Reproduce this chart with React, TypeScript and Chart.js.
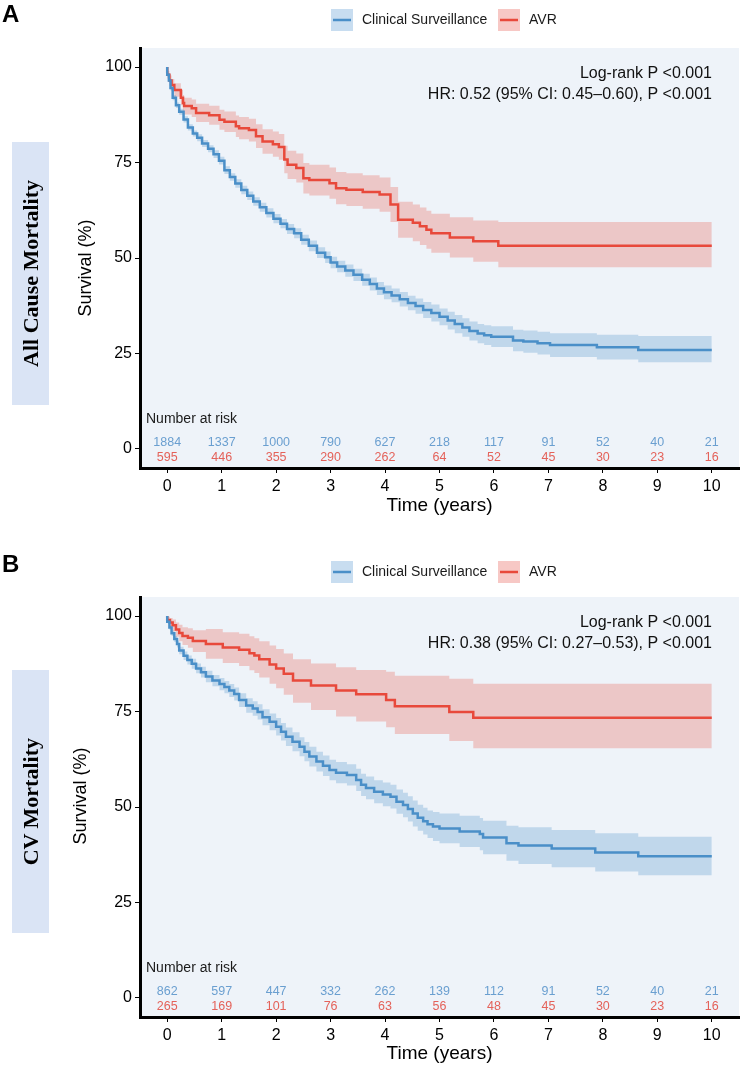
import React, { useEffect, useRef } from "react";
import { Chart, registerables } from "chart.js";

Chart.register(...registerables);

// ---------- shared axis data ----------
const timeTicks = [0, 1, 2, 3, 4, 5, 6, 7, 8, 9, 10];
const survivalTicks = [0, 25, 50, 75, 100];
const seriesNames = ["Clinical Surveillance", "AVR"];

// ---------- Panel A: All Cause Mortality ----------
const csTimeA = [0, 0.03, 0.06, 0.1, 0.16, 0.22, 0.3, 0.38, 0.47, 0.55, 0.64, 0.75, 0.85, 0.95, 1.05, 1.15, 1.25, 1.36, 1.47, 1.58, 1.7, 1.82, 1.95, 2.08, 2.2, 2.33, 2.46, 2.6, 2.75, 2.9, 3.0, 3.12, 3.27, 3.42, 3.58, 3.72, 3.85, 3.98, 4.12, 4.27, 4.42, 4.56, 4.7, 4.85, 5.0, 5.15, 5.28, 5.42, 5.55, 5.7, 5.82, 5.95, 6.35, 6.54, 6.8, 7.03, 7.89, 8.65, 9.27, 10];
const csSurvA = [100, 98, 96.5, 94.5, 92, 90, 88.3, 86.3, 84.2, 82.6, 81.5, 80, 78.6, 77.2, 75.5, 73, 71.2, 69.5, 67.8, 66.3, 64.8, 63.3, 61.8, 60.3, 59, 57.6, 56.5, 54.8, 53.2, 51.4, 50.2, 48.8, 47.8, 46.7, 45.6, 44.3, 43.2, 42, 41, 40.2, 39.2, 38.2, 37.4, 36.4, 35.6, 34.6, 33.6, 32.7, 31.8, 30.9, 30.2, 29.8, 29.4, 28.4, 28.1, 27.7, 27.2, 26.6, 25.9, 25.9];
const csLowA = [100, 97.6, 96, 93.9, 91.3, 89.3, 87.5, 85.5, 83.4, 81.8, 80.6, 79.1, 77.7, 76.2, 74.5, 72, 70.2, 68.4, 66.7, 65.2, 63.7, 62.1, 60.6, 59.1, 57.8, 56.3, 55.2, 53.5, 51.8, 50, 48.7, 47.3, 46.3, 45.1, 44, 42.7, 41.5, 40.3, 39.2, 38.4, 37.3, 36.3, 35.4, 34.3, 33.4, 32.4, 31.3, 30.3, 29.4, 28.4, 27.7, 27.2, 26.7, 25.6, 25.2, 24.7, 24.1, 23.4, 22.7, 22.7];
const csUpA = [100, 98.4, 97, 95.1, 92.7, 90.7, 89.1, 87.1, 85, 83.4, 82.4, 80.9, 79.5, 78.2, 76.5, 74, 72.2, 70.6, 68.9, 67.4, 65.9, 64.5, 63, 61.5, 60.2, 58.9, 57.8, 56.1, 54.6, 52.8, 51.7, 50.3, 49.3, 48.3, 47.2, 45.9, 44.9, 43.7, 42.8, 42, 41.1, 40.1, 39.4, 38.5, 37.8, 36.8, 35.9, 35.1, 34.2, 33.4, 32.7, 32.4, 32.1, 31.2, 31, 30.7, 30.3, 29.9, 29.6, 29.6];

const avrTimeA = [0, 0.04, 0.08, 0.13, 0.25, 0.29, 0.31, 0.45, 0.53, 0.77, 0.96, 1.05, 1.26, 1.32, 1.5, 1.63, 1.75, 1.94, 2.05, 2.15, 2.21, 2.37, 2.5, 2.61, 2.98, 3.1, 3.29, 3.59, 3.9, 4.1, 4.24, 4.51, 4.64, 4.76, 4.85, 5.19, 5.62, 6.08, 6.17, 10];
const avrSurvA = [100, 98, 96.5, 95.3, 94, 92, 90.6, 89.8, 89.2, 88, 87.4, 86.2, 85.7, 84.5, 84, 83.5, 81.9, 80.5, 79.8, 79.1, 75.8, 74.4, 73.6, 70.9, 70.4, 69.6, 68.3, 67.9, 67.3, 66.6, 64, 60, 59.2, 58.3, 57.4, 56.5, 55.4, 54.4, 53.2, 53.2];
const avrLowA = [100, 97, 95.2, 93.7, 92.2, 90, 88.5, 87.6, 86.9, 85.6, 84.9, 83.6, 83, 81.7, 81.1, 80.5, 78.8, 77.3, 76.5, 75.7, 72.2, 70.7, 69.8, 66.9, 66.4, 65.5, 64.1, 63.6, 62.9, 62.1, 59.4, 55.3, 54.4, 53.4, 52.4, 51.4, 50.1, 49, 47.6, 47.6];
const avrUpA = [100, 99, 97.8, 96.9, 95.8, 94, 92.7, 92, 91.5, 90.4, 89.9, 88.8, 88.4, 87.3, 86.9, 86.5, 85, 83.7, 83.1, 82.5, 79.4, 78.1, 77.4, 74.9, 74.4, 73.7, 72.5, 72.2, 71.7, 71.1, 68.6, 64.7, 64, 63.2, 62.4, 61.6, 60.7, 59.8, 59.4, 59.4];

const csRiskA = [1884, 1337, 1000, 790, 627, 218, 117, 91, 52, 40, 21];
const avrRiskA = [595, 446, 355, 290, 262, 64, 52, 45, 30, 23, 16];

// ---------- Panel B: CV Mortality ----------
const csTimeB = [0, 0.04, 0.08, 0.13, 0.18, 0.22, 0.3, 0.37, 0.45, 0.53, 0.62, 0.71, 0.83, 0.96, 1.05, 1.14, 1.23, 1.32, 1.45, 1.57, 1.66, 1.75, 1.88, 2.0, 2.09, 2.18, 2.3, 2.43, 2.52, 2.61, 2.74, 2.86, 2.98, 3.1, 3.3, 3.47, 3.56, 3.65, 3.8, 3.96, 4.1, 4.21, 4.33, 4.42, 4.51, 4.6, 4.7, 4.78, 4.88, 5.0, 5.37, 5.74, 5.8, 6.23, 6.45, 7.06, 7.86, 8.65, 9.27, 10];
const csSurvB = [100, 98.5, 97, 95.5, 94, 92.7, 91, 89.6, 88.5, 87.5, 86.3, 85.3, 84.2, 83.1, 82.2, 81.4, 80.5, 79.6, 78, 76.6, 75.8, 74.9, 73.5, 72.3, 71, 69.7, 68.4, 67.1, 65.8, 64.5, 63.2, 61.9, 60.8, 59.7, 59, 58.4, 57.1, 55.8, 55, 54, 53.3, 52.7, 51.4, 50.5, 49.5, 48.3, 47.2, 46.3, 45.5, 44.9, 44.4, 43.6, 42.9, 42, 40.5, 39.9, 39.1, 38.1, 37.1, 37.1];
const csLowB = [100, 98.1, 96.4, 94.8, 93.2, 91.8, 90, 88.5, 87.3, 86.2, 85, 83.9, 82.7, 81.6, 80.6, 79.8, 78.8, 77.9, 76.2, 74.7, 73.9, 72.9, 71.4, 70.1, 68.7, 67.4, 66, 64.6, 63.3, 62, 60.6, 59.3, 58.1, 57, 56.2, 55.6, 54.2, 52.9, 52, 51, 50.2, 49.6, 48.2, 47.3, 46.2, 44.9, 43.8, 42.8, 41.9, 41.1, 40.5, 39.5, 38.7, 37.6, 35.9, 35.1, 34.2, 33.1, 32.1, 32.1];
const csUpB = [100, 98.9, 97.6, 96.2, 94.8, 93.6, 92, 90.7, 89.7, 88.8, 87.6, 86.7, 85.7, 84.6, 83.8, 83, 82.2, 81.3, 79.8, 78.5, 77.7, 76.9, 75.6, 74.5, 73.3, 72, 70.8, 69.6, 68.3, 67, 65.8, 64.5, 63.5, 62.4, 61.8, 61.2, 60, 58.7, 58, 57, 56.4, 55.8, 54.6, 53.7, 52.8, 51.7, 50.6, 49.8, 49.1, 48.7, 48.3, 47.7, 47.1, 46.4, 45.1, 44.7, 44, 43.1, 42.2, 42.2];

const avrTimeB = [0, 0.05, 0.1, 0.16, 0.22, 0.28, 0.38, 0.47, 0.71, 1.02, 1.32, 1.51, 1.6, 1.69, 1.88, 2.0, 2.14, 2.31, 2.64, 3.1, 3.47, 4.02, 4.18, 5.18, 5.62, 6.16, 10];
const avrSurvB = [100, 99, 98.3, 97.6, 96.5, 95.6, 94.8, 94.3, 93.5, 92.7, 91.8, 91.2, 90.3, 89.7, 88.7, 87.3, 86.3, 84.9, 83.1, 81.8, 80.5, 79.5, 78, 76.4, 74.9, 73.4, 73.4];
const avrLowB = [100, 98.2, 97, 96, 94.6, 93.4, 92.4, 91.7, 90.6, 88.8, 87.7, 86.9, 85.8, 85.1, 83.9, 82.3, 81.1, 79.4, 77.3, 75.4, 73.7, 72.4, 70.9, 69.1, 67.3, 65.4, 65.4];
const avrUpB = [100, 99.8, 99.5, 99.1, 98.3, 97.7, 97.1, 96.8, 96.3, 96.6, 95.8, 95.4, 94.7, 94.2, 93.4, 92.3, 91.4, 90.2, 88.7, 87.6, 86.6, 85.9, 85.4, 84.4, 83.6, 82.3, 82.3];

const csRiskB = [862, 597, 447, 332, 262, 139, 112, 91, 52, 40, 21];
const avrRiskB = [265, 169, 101, 76, 63, 56, 48, 45, 30, 23, 16];

// ---------- styling ----------
const FONT = "'Liberation Sans', Arial, Helvetica, sans-serif";
const BLUE = "#4a8fc8";
const RED = "#e8493b";
const BLUE_BAND = "rgba(74,143,200,0.28)";
const RED_BAND = "rgba(232,73,59,0.26)";
const BLUE_KEY = "#c8ddf0";
const RED_KEY = "#f7c8c5";
const BLUE_TXT = "#6a9fd0";
const RED_TXT = "#e4625a";
const PANEL_BG = "#eef3f9";

type PanelCfg = {
  csT: number[]; csS: number[]; csL: number[]; csU: number[];
  avT: number[]; avS: number[]; avL: number[]; avU: number[];
  csRisk: number[]; avRisk: number[];
  hr: string;
  legendY: number;
  yTitleX: number;
  yTitleY: number;
  height: number;
};

const panelA: PanelCfg = {
  csT: csTimeA, csS: csSurvA, csL: csLowA, csU: csUpA,
  avT: avrTimeA, avS: avrSurvA, avL: avrLowA, avU: avrUpA,
  csRisk: csRiskA, avRisk: avrRiskA,
  hr: "HR: 0.52 (95% CI: 0.45\u20130.60), P <0.001",
  legendY: 20, yTitleX: 86, yTitleY: 268, height: 517,
};

const panelB: PanelCfg = {
  csT: csTimeB, csS: csSurvB, csL: csLowB, csU: csUpB,
  avT: avrTimeB, avS: avrSurvB, avL: avrLowB, avU: avrUpB,
  csRisk: csRiskB, avRisk: avrRiskB,
  hr: "HR: 0.38 (95% CI: 0.27\u20130.53), P <0.001",
  legendY: 23, yTitleX: 81, yTitleY: 247, height: 516,
};

const pts = (t: number[], v: number[]) => t.map((x, i) => ({ x, y: v[i] }));

function KMPanel({ cfg, top }: { cfg: PanelCfg; top: number }) {
  const ref = useRef<HTMLCanvasElement | null>(null);

  useEffect(() => {
    if (!ref.current) return;
    const overlay = {
      id: "kmOverlay",
      beforeDraw(chart: any) {
        const { ctx, chartArea: a } = chart;
        ctx.save();
        ctx.fillStyle = PANEL_BG;
        ctx.fillRect(a.left, a.top, a.right - a.left, a.bottom - a.top);
        ctx.restore();
      },
      afterDraw(chart: any) {
        const { ctx } = chart;
        const xs = chart.scales.x;
        ctx.save();
        // legend
        const ly = cfg.legendY;
        const keys = [
          { x: 331, tx: 362, fill: BLUE_KEY, line: BLUE, label: seriesNames[0] },
          { x: 498, tx: 529, fill: RED_KEY, line: RED, label: seriesNames[1] },
        ];
        keys.forEach((k) => {
          ctx.fillStyle = k.fill;
          ctx.fillRect(k.x, ly - 11, 22, 22);
          ctx.strokeStyle = k.line;
          ctx.lineWidth = 2.5;
          ctx.beginPath();
          ctx.moveTo(k.x + 2, ly);
          ctx.lineTo(k.x + 20, ly);
          ctx.stroke();
          ctx.fillStyle = "#1a1a1a";
          ctx.font = `14px ${FONT}`;
          ctx.textAlign = "left";
          ctx.textBaseline = "middle";
          ctx.fillText(k.label, k.tx, ly + 0.5);
        });
        // statistics annotation
        ctx.fillStyle = "#111";
        ctx.font = `16px ${FONT}`;
        ctx.textAlign = "right";
        ctx.textBaseline = "middle";
        ctx.fillText("Log-rank P <0.001", 712, 74);
        ctx.fillText(cfg.hr, 712, 95);
        // y title
        ctx.save();
        ctx.translate(cfg.yTitleX, cfg.yTitleY);
        ctx.rotate(-Math.PI / 2);
        ctx.font = `18px ${FONT}`;
        ctx.textAlign = "center";
        ctx.fillStyle = "#000";
        ctx.fillText("Survival (%)", 0, 0);
        ctx.restore();
        // number at risk
        ctx.font = `14px ${FONT}`;
        ctx.textAlign = "left";
        ctx.fillStyle = "#1a1a1a";
        ctx.fillText("Number at risk", 146, 419);
        ctx.font = `12.5px ${FONT}`;
        ctx.textAlign = "center";
        timeTicks.forEach((t, i) => {
          const px = xs.getPixelForValue(t);
          ctx.fillStyle = BLUE_TXT;
          ctx.fillText(String(cfg.csRisk[i]), px, 443);
          ctx.fillStyle = RED_TXT;
          ctx.fillText(String(cfg.avRisk[i]), px, 458);
        });
        ctx.restore();
      },
    };

    const line = (label: string, data: any, color: string) => ({
      label, data, borderColor: color, borderWidth: 2.5, stepped: "after" as const,
      pointRadius: 0, fill: false,
    });
    const band = (label: string, data: any, fill: any, bg: string) => ({
      label, data, borderColor: "rgba(0,0,0,0)", borderWidth: 1, stepped: "after" as const,
      pointRadius: 0, fill, backgroundColor: bg,
    });

    const chart = new Chart(ref.current, {
      type: "line",
      data: {
        datasets: [
          line(seriesNames[0], pts(cfg.csT, cfg.csS), BLUE),
          line(seriesNames[1], pts(cfg.avT, cfg.avS), RED),
          band("cs upper", pts(cfg.csT, cfg.csU), "+1", BLUE_BAND),
          band("cs lower", pts(cfg.csT, cfg.csL), false, BLUE_BAND),
          band("avr upper", pts(cfg.avT, cfg.avU), "+1", RED_BAND),
          band("avr lower", pts(cfg.avT, cfg.avL), false, RED_BAND),
        ] as any,
      },
      options: {
        animation: false,
        responsive: false,
        maintainAspectRatio: false,
        layout: { padding: { left: 0, right: 8, top: 48, bottom: 0 } },
        plugins: { legend: { display: false }, tooltip: { enabled: false } },
        elements: { point: { radius: 0 }, line: { tension: 0 } },
        scales: {
          x: {
            type: "linear",
            min: -0.5,
            max: 10.5,
            afterBuildTicks: (s: any) => { s.ticks = timeTicks.map((v) => ({ value: v })); },
            afterFit: (s: any) => { s.height = cfg.height - 468 - (cfg.height === 516 ? 0 : 0) - (cfg.height - 517 < 0 ? 0 : 0); },
            ticks: { font: { size: 16, family: FONT }, color: "#000", padding: 4, maxRotation: 0, autoSkip: false, callback: (v: any) => String(v) },
            grid: { drawOnChartArea: false, drawTicks: true, tickLength: 5, tickColor: "#000", tickWidth: 1 },
            border: { display: true, color: "#000", width: 3 },
            title: { display: true, text: "Time (years)", font: { size: 19, family: FONT }, color: "#000", padding: { top: 0, bottom: 0 } },
          },
          y: {
            type: "linear",
            min: -5,
            max: 105,
            afterBuildTicks: (s: any) => { s.ticks = survivalTicks.map((v) => ({ value: v })); },
            afterFit: (s: any) => { s.width = 140; },
            ticks: { font: { size: 16, family: FONT }, color: "#000", padding: 3, callback: (v: any) => String(v) },
            grid: { drawOnChartArea: false, drawTicks: true, tickLength: 5, tickColor: "#000", tickWidth: 1 },
            border: { display: true, color: "#000", width: 3 },
          },
        },
      } as any,
      plugins: [overlay],
    });
    return () => chart.destroy();
  }, [cfg]);

  return (
    <canvas
      ref={ref}
      width={747}
      height={cfg.height}
      style={{ position: "absolute", left: 0, top, width: 747, height: cfg.height, display: "block" }}
    />
  );
}

const sideBox = (top: number): React.CSSProperties => ({
  position: "absolute", left: 12, top, width: 37, height: 263, background: "#dae4f5",
  display: "flex", alignItems: "center", justifyContent: "center",
});

const sideText: React.CSSProperties = {
  writingMode: "vertical-rl", transform: "rotate(180deg)", fontFamily: "'Liberation Serif', 'Times New Roman', serif",
  fontWeight: "bold", fontSize: 22, color: "#000", whiteSpace: "nowrap", lineHeight: 1,
};

const letter = (top: number): React.CSSProperties => ({
  position: "absolute", left: 2, top, fontFamily: FONT, fontWeight: "bold", fontSize: 24, lineHeight: "24px", color: "#000",
});

export default function App() {
  return (
    <div style={{ position: "absolute", left: 0, top: 0, width: 747, height: 1065, background: "#fff", overflow: "hidden" }}>
      <KMPanel cfg={panelA} top={0} />
      <KMPanel cfg={panelB} top={549} />
      <div style={letter(2)}>A</div>
      <div style={letter(552)}>B</div>
      <div style={sideBox(142)}><span style={sideText}>All Cause Mortality</span></div>
      <div style={sideBox(670)}><span style={sideText}>CV Mortality</span></div>
    </div>
  );
}
